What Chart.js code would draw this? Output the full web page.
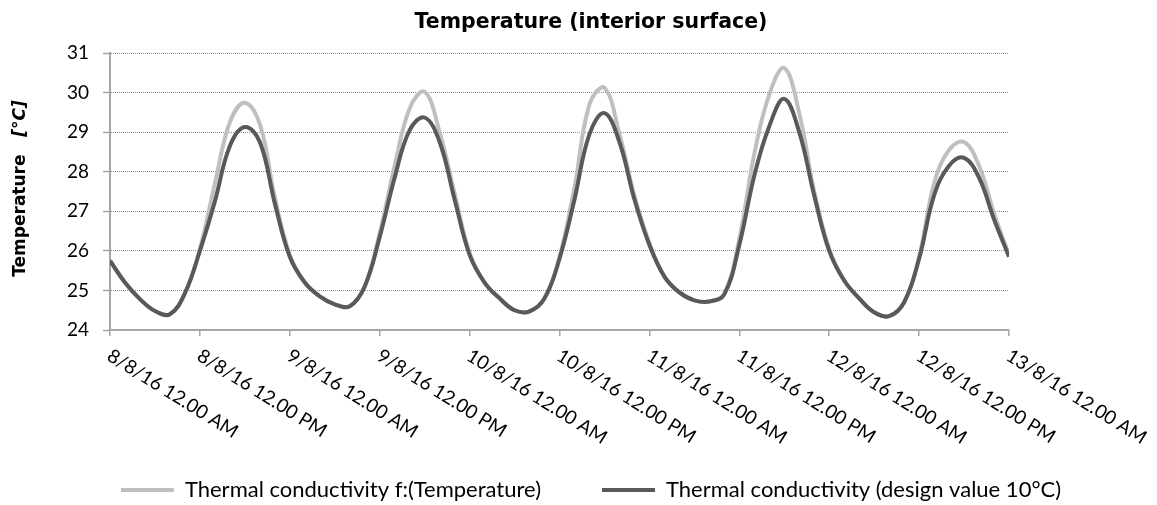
<!DOCTYPE html>
<html>
<head>
<meta charset="utf-8">
<script src="https://cdn.jsdelivr.net/npm/chart.js@4"></script>
<style>
  html, body { margin: 0; padding: 0; background: #fff; }
  #wrap { width: 1157px; height: 505px; }
</style>
</head>
<body>
<div id="wrap"><canvas id="graph"></canvas></div>
<script>
// hours since 8/8/16 12.00 AM
const hours = [0, 2, 4, 6, 8, 10, 12, 14, 16, 18, 20, 22, 24, 26, 28, 30, 32, 34, 36, 38, 40,
  42, 44, 46, 48, 50, 52, 54, 56, 58, 60, 62, 64, 66, 68, 70, 72, 74, 76, 78, 80,
  82, 84, 86, 88, 90, 92, 94, 96, 98, 100, 102, 104, 106, 108, 110, 112, 114, 116, 118, 120];

// Thermal conductivity f:(Temperature)
const lightValues = [25.75, 25.2, 24.78, 24.48, 24.4, 24.93, 26.05, 27.7, 29.25, 29.74, 29.2,
  27.35, 25.9, 25.2, 24.85, 24.65, 24.6, 25.1, 26.45, 28.15, 29.6,
  30.02, 29.0, 27.45, 25.95, 25.2, 24.8, 24.5, 24.47, 24.8, 25.85,
  27.6, 29.7, 30.12, 28.95, 27.4, 26.2, 25.35, 24.95, 24.75, 24.72,
  24.92, 26.3, 28.45, 29.95, 30.62, 29.48, 27.5, 26.05, 25.25, 24.8,
  24.45, 24.35, 24.7, 25.85, 27.7, 28.55, 28.75, 28.15, 26.95, 25.9];

// Thermal conductivity (design value 10°C)
const darkValues = [25.75, 25.2, 24.78, 24.48, 24.4, 24.93, 26.0, 27.25, 28.65, 29.13, 28.75,
  27.2, 25.85, 25.2, 24.85, 24.65, 24.6, 25.1, 26.35, 27.85, 29.05,
  29.37, 28.75, 27.3, 25.9, 25.2, 24.8, 24.5, 24.47, 24.8, 25.8,
  27.3, 28.95, 29.48, 28.75, 27.3, 26.15, 25.35, 24.95, 24.75, 24.72,
  24.9, 26.15, 27.9, 29.15, 29.84, 29.0, 27.4, 26.0, 25.25, 24.8,
  24.45, 24.35, 24.7, 25.8, 27.4, 28.15, 28.35, 27.85, 26.8, 25.85];

const tickHours = [0, 12, 24, 36, 48, 60, 72, 84, 96, 108, 120];
const tickLabels = [
  "8/8/16 12.00 AM", "8/8/16 12.00 PM",
  "9/8/16 12.00 AM", "9/8/16 12.00 PM",
  "10/8/16 12.00 AM", "10/8/16 12.00 PM",
  "11/8/16 12.00 AM", "11/8/16 12.00 PM",
  "12/8/16 12.00 AM", "12/8/16 12.00 PM",
  "13/8/16 12.00 AM"
];

const FONT = "Lato";
const BOLD_FONT = "DejaVu Sans";

// x labels run down to the right (Excel style) and the y title mixes bold / bold italic
const extraText = {
  id: "extraText",
  afterDraw(chart) {
    const ctx = chart.ctx;
    const xs = chart.scales.x;
    ctx.save();
    ctx.fillStyle = "#000";
    ctx.font = "19px " + FONT;
    ctx.textAlign = "left";
    ctx.textBaseline = "middle";
    tickHours.forEach((h, i) => {
      const px = xs.getPixelForValue(h);
      ctx.save();
      ctx.translate(px - 1, xs.top + 24);
      ctx.rotate(32 * Math.PI / 180);
      ctx.fillText(tickLabels[i], 0, 0);
      ctx.restore();
    });

    const a = chart.chartArea;
    const part1 = "Temperature   ";
    const part2 = "[°C]";
    const f1 = "bold 17px " + BOLD_FONT;
    const f2 = "italic bold 17px " + BOLD_FONT;
    ctx.font = f1;
    const w1 = ctx.measureText(part1).width;
    ctx.font = f2;
    const w2 = ctx.measureText(part2).width;
    ctx.translate(21, (a.top + a.bottom) / 2 - 3);
    ctx.rotate(-Math.PI / 2);
    ctx.textAlign = "left";
    ctx.font = f1;
    ctx.fillText(part1, -(w1 + w2) / 2, 0);
    ctx.font = f2;
    ctx.fillText(part2, -(w1 + w2) / 2 + w1, 0);
    ctx.restore();
  }
};

const ctx = document.getElementById("graph").getContext("2d");
const grafico = new Chart(ctx, {
  type: "line",
  data: {
    datasets: [
      {
        label: "Thermal conductivity (design value 10°C)",
        data: hours.map((h, i) => ({ x: h, y: darkValues[i] })),
        borderColor: "#595959",
        backgroundColor: "#595959",
        borderWidth: 4,
        pointRadius: 0,
        tension: 0.4
      },
      {
        label: "Thermal conductivity f:(Temperature)",
        data: hours.map((h, i) => ({ x: h, y: lightValues[i] })),
        borderColor: "#bfbfbf",
        backgroundColor: "#bfbfbf",
        borderWidth: 4,
        pointRadius: 0,
        tension: 0.4
      }
    ]
  },
  options: {
    responsive: true,
    maintainAspectRatio: false,
    animation: false,
    devicePixelRatio: 1,
    layout: { padding: { left: 25, right: 0, top: 0, bottom: 0 } },
    plugins: {
      title: {
        display: true,
        text: "Temperature (interior surface)",
        color: "#000",
        font: { family: BOLD_FONT, size: 20.5, weight: "bold" },
        padding: { top: 10, bottom: 18.4 }
      },
      legend: {
        position: "bottom",
        reverse: true,
        maxHeight: 87,
        labels: {
          color: "#000",
          font: { family: FONT, size: 22 },
          boxWidth: 53,
          boxHeight: 4,
          padding: 61,
          generateLabels: (chart) =>
            Chart.defaults.plugins.legend.labels.generateLabels(chart).map(l => ({ ...l, lineWidth: 0 }))
        }
      },
      tooltip: { enabled: false }
    },
    scales: {
      x: {
        type: "linear",
        min: 0,
        max: 120,
        ticks: { stepSize: 12, display: false },
        grid: { drawOnChartArea: false, drawTicks: true, tickLength: 6, color: "#a6a6a6", lineWidth: 1.5 },
        border: { display: true, color: "#a6a6a6", width: 2 },
        afterFit: (s) => { s.height = 88; }
      },
      y: {
        min: 24,
        max: 31,
        ticks: {
          stepSize: 0.5,
          color: "#000",
          padding: 14,
          font: { family: FONT, size: 19 },
          callback: (v) => Number.isInteger(v) ? v : ""
        },
        grid: {
          color: "#8c8c8c",
          lineWidth: 1,
          tickLength: 7,
          tickColor: (c) => Number.isInteger(c.tick.value) ? "#a6a6a6" : "rgba(0,0,0,0)",
          tickWidth: 1.5
        },
        border: { display: true, color: "#a6a6a6", width: 2, dash: [1, 1] },
        afterFit: (s) => { s.width = 85; }
      },
      yPad: {
        position: "right",
        display: true,
        grid: { display: false },
        border: { display: false },
        ticks: { display: false },
        afterFit: (s) => { s.width = 148; }
      }
    }
  },
  plugins: [extraText]
});
</script>
</body>
</html>
